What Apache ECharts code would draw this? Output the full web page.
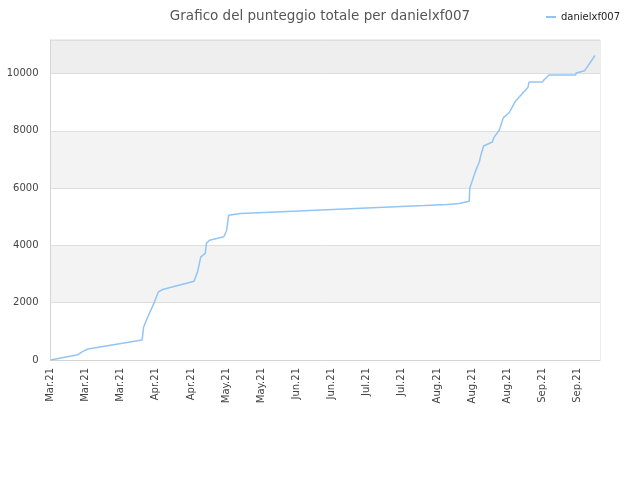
<!DOCTYPE html>
<html>
<head>
<meta charset="utf-8">
<script src="https://cdn.jsdelivr.net/npm/echarts@6/dist/echarts.min.js"></script>
<style>html,body{margin:0;padding:0;background:#fff;}#c{width:640px;height:480px;}</style>
</head>
<body>
<div id="c"></div>
<script>
// days since 1 March 2021
var days = [0, 10.9, 12.9, 14.9, 36.5, 37.1, 38.8, 41.2, 43.0, 44.7, 57.2, 58.6, 59.9, 61.7, 62.1, 63.4,
  69.1, 70.2, 71.0, 75.8, 85.0, 94.2, 103.3, 112.5, 121.5, 130.6, 139.7, 149.0, 158.0, 162.9, 166.9,
  167.1, 168.6, 169.5, 170.9, 171.5, 172.6, 176.1, 176.8, 178.8, 180.5, 182.8, 185.2, 190.3, 190.7,
  196.0, 196.7, 198.7, 209.3, 209.5, 212.9, 217.0];
var scores = [0, 185, 300, 385, 700, 1140, 1510, 1975, 2380, 2460, 2750, 3080, 3600, 3720, 4070, 4180,
  4300, 4530, 5050, 5110, 5145, 5180, 5215, 5250, 5285, 5320, 5355, 5390, 5425, 5460, 5540,
  6000, 6390, 6620, 6910, 7140, 7470, 7610, 7780, 8010, 8460, 8630, 9020, 9520, 9700,
  9700, 9780, 9950, 9950, 10020, 10100, 10630];
var monthNames = ['Jan','Feb','Mar','Apr','May','Jun','Jul','Aug','Sep','Oct','Nov','Dec'];
var seriesName = 'danielxf007';
var titleText = 'Grafico del punteggio totale per danielxf007';

var data = days.map(function (d, i) { return [d, scores[i]]; });
var chart = echarts.init(document.getElementById('c'), null, {renderer: 'canvas'});
chart.setOption({
  animation: false,
  backgroundColor: '#fff',
  textStyle: {fontFamily: 'DejaVu Sans'},
  title: {
    text: titleText, left: 'center', top: 4,
    textStyle: {fontFamily: 'DejaVu Sans', fontSize: 13.5, fontWeight: 'normal', color: '#555'}
  },
  legend: {
    left: 541, top: 7, icon: 'rect', itemWidth: 10, itemHeight: 2, itemGap: 10,
    textStyle: {fontFamily: 'DejaVu Sans', fontSize: 10, color: '#222', padding: [0,0,0,0]},
    data: [seriesName]
  },
  grid: {left: 50.5, right: 40, top: 40, bottom: 120, show: true, borderColor: '#dcdcdc', borderWidth: 1},
  xAxis: {
    type: 'value', min: 0, max: 219, interval: 14,
    axisLine: {show: true, lineStyle: {color: '#d5d5d5'}},
    axisTick: {show: false},
    splitLine: {show: false},
    axisLabel: {
      rotate: 90, margin: 8, fontSize: 10, color: '#444', fontFamily: 'DejaVu Sans',
      showMaxLabel: false,
      formatter: function (v) {
        var dt = new Date(2021, 2, 1 + Math.round(v));
        return monthNames[dt.getMonth()] + '.' + String(dt.getFullYear()).slice(2);
      }
    }
  },
  yAxis: {
    type: 'value', min: 0, max: 11170, interval: 2000,
    axisLine: {show: true, lineStyle: {color: '#d5d5d5'}},
    axisTick: {show: false},
    axisLabel: {fontSize: 10, color: '#444', margin: 12, fontFamily: 'DejaVu Sans',
      showMaxLabel: false, formatter: function (v) { return String(v); }},
    splitLine: {show: true, lineStyle: {color: '#dedede'}},
    splitArea: {show: true, areaStyle: {color: ['#ffffff', '#f3f3f3', '#ffffff', '#f3f3f3', '#ffffff', '#eeeeee']}}
  },
  series: [{
    name: seriesName, type: 'line', data: data, showSymbol: false, symbol: 'none',
    lineStyle: {width: 1.5, color: '#92c5f7'}, itemStyle: {color: '#92c5f7'}
  }]
});
</script>
</body>
</html>
